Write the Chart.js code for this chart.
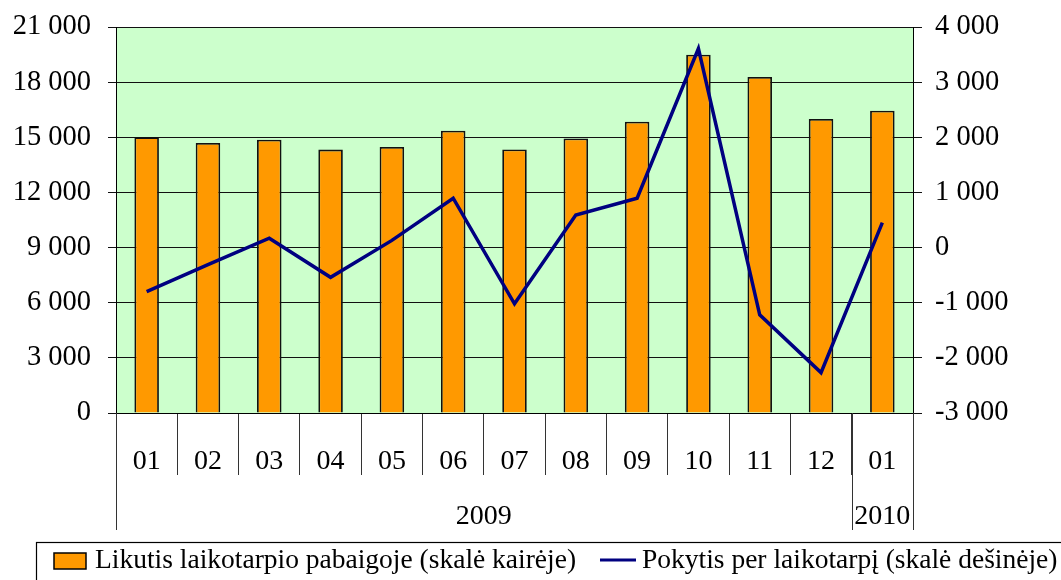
<!DOCTYPE html>
<html>
<head>
<meta charset="utf-8">
<script src="https://cdn.jsdelivr.net/npm/chart.js@4/dist/chart.umd.min.js"></script>
<style>
html,body{margin:0;padding:0;background:#fff;}
canvas{display:block;}
</style>
</head>
<body>
<canvas id="c" width="1061" height="580"></canvas>
<script>
const categories = ['01','02','03','04','05','06','07','08','09','10','11','12','01'];
const yearLabels = ['2009','2010'];
const yearSpans = [12,1];
const balance = [15000,14690,14870,14330,14470,15360,14340,14940,15850,19490,18280,16000,16450];
const change = [-800,-310,170,-540,130,895,-1020,590,895,3610,-1220,-2268,452];
const balanceLabel = 'Likutis laikotarpio pabaigoje (skalė kairėje)';
const changeLabel = 'Pokytis per laikotarpį (skalė dešinėje)';

const FONT = "'Liberation Serif','Times New Roman',serif";
function fmt(v){
  const s = String(Math.abs(v)).replace(/\B(?=(\d{3})+(?!\d))/g,' ');
  return (v<0?'-':'') + s;
}

const bgPlugin = {
  id:'bg',
  beforeDraw(chart){
    const {ctx, chartArea:a} = chart;
    ctx.save();
    ctx.fillStyle = '#CCFFCC';
    ctx.fillRect(a.left, a.top, a.right-a.left, a.bottom-a.top);
    ctx.restore();
  }
};

const extraPlugin = {
  id:'extra',
  afterDraw(chart){
    const {ctx, chartArea:a} = chart;
    const step = (a.right - a.left) / categories.length;
    ctx.save();
    ctx.strokeStyle = '#333';
    ctx.lineWidth = 1;
    let idx = 0;
    const bounds = [0];
    yearSpans.forEach(n => { idx += n; bounds.push(idx); });
    bounds.forEach(b => {
      const x = Math.round(a.left + b*step) + 0.5;
      ctx.beginPath();
      ctx.moveTo(x, a.bottom);
      ctx.lineTo(x, 530);
      ctx.stroke();
    });
    ctx.fillStyle = '#000';
    ctx.font = '28px ' + FONT;
    ctx.textAlign = 'center';
    ctx.textBaseline = 'middle';
    for (let i=0;i<yearLabels.length;i++){
      const x0 = a.left + bounds[i]*step, x1 = a.left + bounds[i+1]*step;
      ctx.fillText(yearLabels[i], (x0+x1)/2, 517);
    }
    // legend
    ctx.strokeStyle = '#000';
    ctx.lineWidth = 1.2;
    ctx.strokeRect(36.5, 542.5, 1100, 100);
    const ds = chart.data.datasets;
    const barDs = ds.find(d => d.type === 'bar');
    const lineDs = ds.find(d => d.type === 'line');
    ctx.fillStyle = barDs.backgroundColor;
    ctx.fillRect(54, 553, 32, 16);
    ctx.lineWidth = 1.5;
    ctx.strokeStyle = '#000';
    ctx.strokeRect(54, 553, 32, 16);
    ctx.fillStyle = '#000';
    ctx.font = '27.5px ' + FONT;
    ctx.textAlign = 'left';
    ctx.textBaseline = 'middle';
    ctx.fillText(barDs.label, 95, 561);
    ctx.strokeStyle = lineDs.borderColor;
    ctx.lineWidth = 3;
    ctx.beginPath();
    ctx.moveTo(600, 560);
    ctx.lineTo(636, 560);
    ctx.stroke();
    ctx.fillText(lineDs.label, 642, 561);
    ctx.restore();
  }
};

new Chart(document.getElementById('c'), {
  data: {
    labels: categories,
    datasets: [
      {
        type:'line',
        label: changeLabel,
        data: change,
        yAxisID:'y1',
        borderColor:'#000080',
        borderWidth:3.5,
        pointRadius:0,
        tension:0,
        order:0
      },
      {
        type:'bar',
        label: balanceLabel,
        data: balance,
        yAxisID:'y',
        backgroundColor:'#FF9900',
        borderColor:'#111',
        borderWidth:1.8,
        categoryPercentage:1.0,
        barPercentage:0.4,
        order:1
      }
    ]
  },
  options: {
    responsive:false,
    animation:false,
    layout:{padding:{top:27,left:0,right:0,bottom:0}},
    plugins:{legend:{display:false}, tooltip:{enabled:false}},
    scales:{
      x:{
        offset:true,
        grid:{offset:true, drawOnChartArea:false, drawTicks:true, tickLength:62, color:'#333', lineWidth:1},
        border:{display:true, color:'#000'},
        ticks:{font:{family:FONT,size:28}, color:'#000', padding:-30, maxRotation:0, autoSkip:false},
        afterFit(s){ s.height = 167; s.paddingLeft = 0; s.paddingRight = 0; }
      },
      y:{
        position:'left',
        min:0, max:21000,
        ticks:{stepSize:3000, font:{family:FONT,size:28.5}, color:'#000', padding:17, callback:v=>fmt(v)},
        grid:{color:'#111', lineWidth:1, tickLength:8, drawTicks:true},
        border:{display:true, color:'#000', width:1},
        afterFit(s){ s.width = 116; s.paddingTop = 0; s.paddingBottom = 0; }
      },
      y1:{
        position:'right',
        min:-3000, max:4000,
        ticks:{stepSize:1000, font:{family:FONT,size:28.5}, color:'#000', padding:13, callback:v=>fmt(v)},
        grid:{drawOnChartArea:false, color:'#111', tickLength:9, drawTicks:true},
        border:{display:true, color:'#000', width:1},
        afterFit(s){ s.width = 148; s.paddingTop = 0; s.paddingBottom = 0; }
      }
    }
  },
  plugins:[bgPlugin, extraPlugin]
});
</script>
</body>
</html>
